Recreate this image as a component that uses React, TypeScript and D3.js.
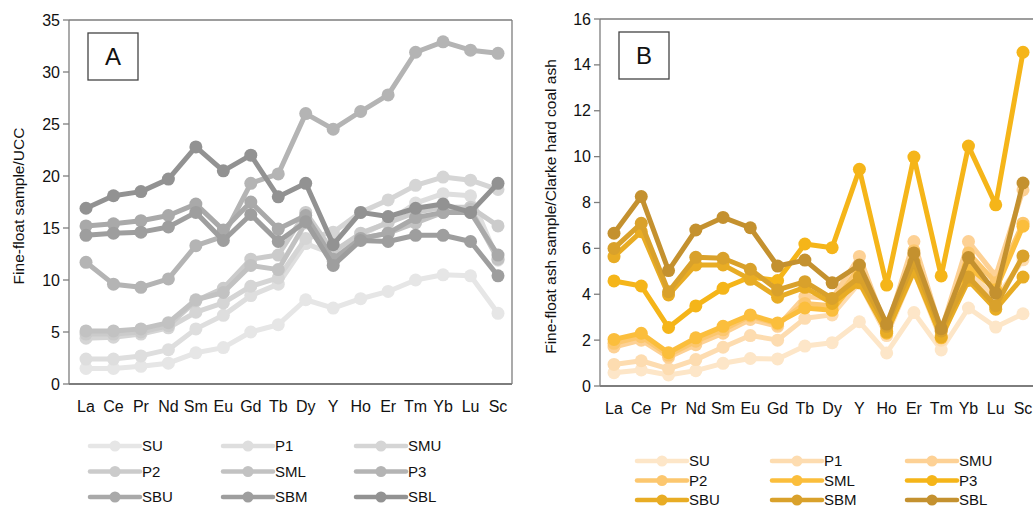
import React from 'react';
import * as d3 from 'd3';

const elements = ['La', 'Ce', 'Pr', 'Nd', 'Sm', 'Eu', 'Gd', 'Tb', 'Dy', 'Y', 'Ho', 'Er', 'Tm', 'Yb', 'Lu', 'Sc'];
const seriesNames = ['SU', 'P1', 'SMU', 'P2', 'SML', 'P3', 'SBU', 'SBM', 'SBL'];

// panel A: fine-float sample / UCC
const uccSU = [1.5, 1.5, 1.7, 2.0, 3.0, 3.5, 5.0, 5.7, 8.1, 7.3, 8.2, 8.9, 10.0, 10.5, 10.4, 6.8];
const uccP1 = [2.4, 2.4, 2.7, 3.3, 5.3, 6.6, 8.5, 9.6, 13.5, 12.5, 14.3, 15.6, 17.4, 18.3, 18.1, 11.9];
const uccSMU = [4.4, 4.5, 4.8, 5.4, 6.9, 7.8, 9.4, 10.2, 14.0, 14.6, 16.5, 17.7, 19.1, 19.9, 19.6, 18.7];
const uccP2 = [4.8, 4.8, 5.0, 5.6, 8.0, 9.2, 12.0, 12.4, 16.5, 12.7, 14.5, 15.5, 16.5, 17.0, 17.0, 15.2];
const uccSML = [5.1, 5.1, 5.3, 5.9, 8.1, 8.8, 11.4, 11.0, 15.5, 11.8, 14.0, 14.5, 15.5, 16.5, 16.8, 12.0];
const uccP3 = [11.7, 9.6, 9.3, 10.1, 13.3, 14.2, 19.3, 20.2, 26.0, 24.5, 26.2, 27.8, 31.9, 32.9, 32.1, 31.8];
const uccSBU = [15.2, 15.4, 15.7, 16.2, 17.3, 14.8, 17.5, 14.9, 16.2, 12.0, 14.0, 14.5, 16.0, 16.5, 16.5, 12.4];
const uccSBM = [14.3, 14.5, 14.6, 15.1, 16.5, 13.8, 16.3, 13.7, 15.6, 11.4, 13.8, 13.7, 14.3, 14.3, 13.7, 10.4];
const uccSBL = [16.9, 18.1, 18.5, 19.7, 22.8, 20.5, 22.0, 18.0, 19.3, 13.4, 16.5, 16.1, 16.9, 17.3, 16.5, 19.3];

// panel B: fine-float ash sample / Clarke hard coal ash
const ashSU = [0.58, 0.7, 0.48, 0.67, 0.99, 1.2, 1.18, 1.74, 1.89, 2.8, 1.44, 3.2, 1.57, 3.4, 2.57, 3.15];
const ashP1 = [0.94, 1.1, 0.75, 1.15, 1.69, 2.2, 2.0, 2.95, 3.1, 4.5, 2.2, 5.0, 2.0, 5.0, 3.8, 5.5];
const ashSMU = [1.7, 2.0, 1.25, 1.8, 2.3, 2.9, 2.6, 3.9, 3.8, 5.65, 2.5, 6.3, 2.4, 6.3, 4.8, 8.55];
const ashP2 = [1.86, 2.15, 1.35, 1.95, 2.45, 3.05, 2.7, 3.6, 3.5, 5.2, 2.4, 5.9, 2.2, 5.8, 4.5, 7.1];
const ashSML = [2.03, 2.3, 1.45, 2.1, 2.6, 3.1, 2.75, 3.4, 3.3, 4.8, 2.3, 5.2, 2.1, 5.2, 4.2, 6.97];
const ashP3 = [4.58, 4.36, 2.55, 3.49, 4.26, 4.75, 4.6, 6.19, 6.03, 9.45, 4.4, 9.98, 4.8, 10.46, 7.9, 14.55];
const ashSBU = [5.64, 6.73, 3.97, 5.28, 5.28, 4.65, 3.87, 4.3, 3.6, 4.5, 2.35, 5.0, 2.14, 4.6, 3.35, 4.75];
const ashSBM = [6.0, 7.09, 4.11, 5.61, 5.57, 5.09, 4.19, 4.55, 3.82, 4.75, 2.6, 5.4, 2.4, 4.75, 3.5, 5.67];
const ashSBL = [6.66, 8.26, 5.03, 6.8, 7.35, 6.9, 5.23, 5.49, 4.5, 5.27, 2.7, 5.8, 2.5, 5.6, 4.05, 8.85];

const uccTicks = [0, 5, 10, 15, 20, 25, 30, 35];
const ashTicks = [0, 2, 4, 6, 8, 10, 12, 14, 16];

const greys = ['#e6e6e6', '#dedede', '#d5d5d5', '#cbcbcb', '#c2c2c2', '#b4b4b4', '#a9a9a9', '#9e9e9e', '#929292'];
const golds = ['#fde6c8', '#fddcb0', '#fdd195', '#fcc76f', '#fbbe3c', '#f5b519', '#e8ac24', '#d9a12b', '#c4912f'];

const FONT = '"Liberation Sans", Arial, sans-serif';
const AXIS = '#7d7d7d';

type PanelProps = {
  series: number[][];
  colors: string[];
  ticks: number[];
  yMax: number;
  left: number;
  right: number;
  top: number;
  bottom: number;
  xFirst: number;
  xLast: number;
  label: string;
  title: string;
  titleX: number;
  legendX: number;
  legendY: number;
  legendDx: number;
  legendDy: number;
};

const Panel = (p: PanelProps) => {
  const x = d3.scalePoint<string>().domain(elements).range([p.xFirst, p.xLast]);
  const y = d3.scaleLinear().domain([0, p.yMax]).range([p.bottom, p.top]);
  const lineGen = d3
    .line<number>()
    .x((d, i) => x(elements[i]) as number)
    .y(d => y(d));
  const midY = (p.top + p.bottom) / 2 + 4;

  return (
    <g>
      {/* frame */}
      <line x1={p.left} x2={p.right} y1={p.top} y2={p.top} stroke={AXIS} strokeWidth={1.3} />
      <line x1={p.right} x2={p.right} y1={p.top} y2={p.bottom} stroke={AXIS} strokeWidth={1.3} />
      <line x1={p.left} x2={p.right} y1={p.bottom} y2={p.bottom} stroke={AXIS} strokeWidth={2} />
      <line x1={p.left} x2={p.left} y1={p.top} y2={p.bottom} stroke={AXIS} strokeWidth={1.3} />

      {p.ticks.map(t => (
        <g key={t}>
          <line x1={p.left - 6} x2={p.left} y1={y(t)} y2={y(t)} stroke={AXIS} strokeWidth={1.3} />
          <text x={p.left - 9} y={y(t)} dy="0.35em" textAnchor="end" fontSize={16} fontFamily={FONT} fill="#111">
            {t}
          </text>
        </g>
      ))}

      {elements.map(e => (
        <text key={e} x={x(e)} y={p.bottom + 28} textAnchor="middle" fontSize={16} fontFamily={FONT} fill="#111">
          {e}
        </text>
      ))}

      <text
        transform={`translate(${p.titleX},${midY}) rotate(-90)`}
        textAnchor="middle"
        fontSize={15.5}
        fontFamily={FONT}
        fill="#111"
      >
        {p.title}
      </text>

      {/* series */}
      {p.series.map((s, k) => (
        <g key={seriesNames[k]}>
          <path d={lineGen(s) || ''} fill="none" stroke={p.colors[k]} strokeWidth={5} strokeLinejoin="round" />
          {s.map((v, i) => (
            <circle key={i} cx={x(elements[i])} cy={y(v)} r={6.5} fill={p.colors[k]} />
          ))}
        </g>
      ))}

      {/* panel letter */}
      <rect x={p.left + 19} y={p.top + 13} width={50} height={47} fill="#fff" stroke="#444" strokeWidth={1.3} />
      <text x={p.left + 44} y={p.top + 45} textAnchor="middle" fontSize={24} fontFamily={FONT} fill="#111">
        {p.label}
      </text>

      {/* legend */}
      {seriesNames.map((n, k) => {
        const lx = p.legendX + (k % 3) * p.legendDx;
        const ly = p.legendY + Math.floor(k / 3) * p.legendDy;
        return (
          <g key={n}>
            <line x1={lx} x2={lx + 50} y1={ly} y2={ly} stroke={p.colors[k]} strokeWidth={4.5} strokeLinecap="round" />
            <circle cx={lx + 25} cy={ly} r={5.5} fill={p.colors[k]} />
            <text x={lx + 52} y={ly} dy="0.36em" fontSize={15} fontFamily={FONT} fill="#111">
              {n}
            </text>
          </g>
        );
      })}
    </g>
  );
};

export default function App() {
  const uccSeries = [uccSU, uccP1, uccSMU, uccP2, uccSML, uccP3, uccSBU, uccSBM, uccSBL];
  const ashSeries = [ashSU, ashP1, ashSMU, ashP2, ashSML, ashP3, ashSBU, ashSBM, ashSBL];
  return (
    <svg width={1033} height={508} style={{ position: 'absolute', left: 0, top: 0, background: '#fff' }}>
      <Panel
        series={uccSeries}
        colors={greys}
        ticks={uccTicks}
        yMax={35}
        left={69}
        right={512}
        top={20}
        bottom={384}
        xFirst={86}
        xLast={498}
        label="A"
        title="Fine-float sample/UCC"
        titleX={24}
        legendX={90}
        legendY={446}
        legendDx={133}
        legendDy={25.5}
      />
      <Panel
        series={ashSeries}
        colors={golds}
        ticks={ashTicks}
        yMax={16}
        left={600}
        right={1045}
        top={19}
        bottom={386}
        xFirst={614}
        xLast={1023}
        label="B"
        title="Fine-float ash sample/Clarke hard coal ash"
        titleX={556}
        legendX={637}
        legendY={461}
        legendDx={135}
        legendDy={19.5}
      />
    </svg>
  );
}
